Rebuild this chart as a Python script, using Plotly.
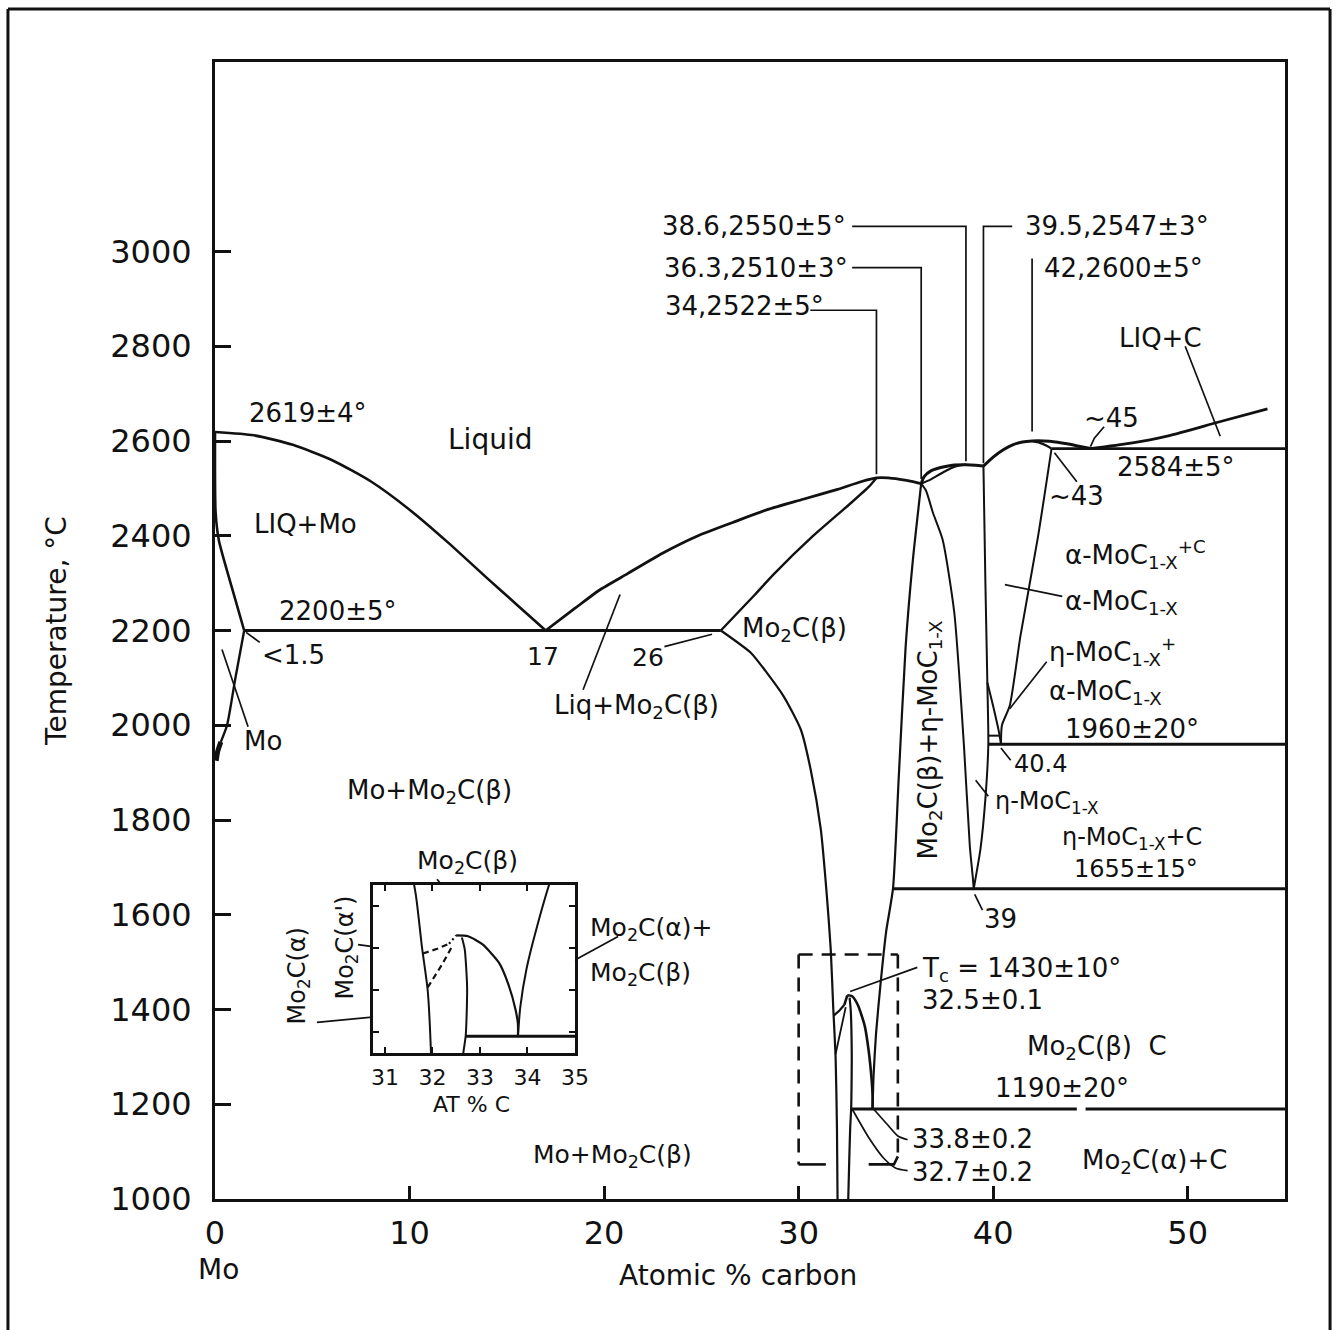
import plotly.graph_objects as go

# Mo-C phase diagram: composition in atomic % carbon, temperature in deg C

# ---------------- Mo-rich side ----------------
mo_liquidus_x = [0, 2, 4, 6, 8, 10, 12, 14, 15.5, 17]
mo_liquidus_t = [2619, 2612, 2592, 2560, 2515, 2455, 2385, 2310, 2255, 2200]
mo_solidus_x = [0, 0.03, 0.2, 0.85, 1.5]
mo_solidus_t = [2619, 2450, 2390, 2293, 2200]
mo_solvus_x = [1.5, 1.05, 0.62, 0.3]
mo_solvus_t = [2200, 2100, 2000, 1965]
mo_solvus_edge_x = [0.3, 0.14, 0.06]
mo_solvus_edge_t = [1965, 1945, 1925]

# ---------------- Mo2C ----------------
mo2c_liquidus_x = [17, 18.51, 19.75, 21.21, 23.0, 24.83, 26.61, 28.39, 30.23, 32.0, 33.2, 34,
                   34.6, 35.2, 35.8, 36.3]
mo2c_liquidus_t = [2200, 2247, 2285, 2320, 2363, 2400, 2428, 2455, 2477, 2498, 2514, 2522,
                   2522, 2519, 2515, 2510]
mo2c_solidus_x = [26, 27.76, 28.7, 30.7, 32.63, 33.6, 34]
mo2c_solidus_t = [2200, 2276, 2318, 2398, 2467, 2503, 2522]
mo2c_left_x = [26, 27.54, 28.36, 29.23, 30.11, 30.62, 31.14, 31.45, 31.65, 31.78, 31.9, 31.97, 32.0]
mo2c_left_t = [2200, 2153, 2111, 2061, 1991, 1906, 1780, 1640, 1527, 1402, 1300, 1150, 1000]
mo2c_right_x = [36.3, 35.86, 35.5, 35.14, 34.85, 34.5, 34.2, 33.98, 33.85, 33.8]
mo2c_right_t = [2510, 2344, 2166, 1885, 1655, 1565, 1450, 1350, 1260, 1190]

# ordering of Mo2C (beta -> alpha), critical point Tc
tc_dome_x = [32.5, 32.75, 33.05, 33.4, 33.6, 33.75, 33.8, 33.8]
tc_dome_t = [1430, 1428, 1409, 1365, 1313, 1253, 1219, 1190]
alpha_prime_upper_x = [31.8, 32.1, 32.35]
alpha_prime_upper_t = [1387, 1398, 1410]
alpha_prime_top_x = [32.35, 32.5]
alpha_prime_top_t = [1410, 1430]
alpha_prime_lower_x = [31.9, 32.2, 32.42]
alpha_prime_lower_t = [1306, 1360, 1405]
mo2c_alpha_right_x = [32.62, 32.68, 32.73, 32.72, 32.7, 32.65, 32.6, 32.55]
mo2c_alpha_right_t = [1425, 1397, 1308, 1240, 1190, 1150, 1080, 1000]

# ---------------- eta-MoC(1-x) ----------------
eta_liquidus_x = [36.3, 36.45, 36.8, 37.3, 37.9, 38.6, 39.1, 39.5]
eta_liquidus_t = [2510, 2525, 2537, 2544, 2549, 2550, 2549, 2547]
eta_solidus_x = [36.3, 36.8, 37.3, 37.8, 38.2, 38.6]
eta_solidus_t = [2510, 2519, 2531, 2542, 2548, 2550]
eta_left_x = [36.3, 36.55, 36.9, 37.4, 38.0, 38.5, 38.8, 38.95, 39.0]
eta_left_t = [2510, 2495, 2449, 2392, 2238, 1955, 1744, 1680, 1655]
eta_right_x = [39.5, 39.6, 39.7, 39.75, 39.6, 39.35, 39.0]
eta_right_t = [2547, 2300, 2090, 1960, 1845, 1740, 1655]

# ---------------- alpha-MoC(1-x) ----------------
alpha_liquidus_x = [39.5, 40.0, 40.5, 41.0, 41.5, 42, 42.6, 43.2, 43.8, 44.4, 45]
alpha_liquidus_t = [2547, 2566, 2581, 2592, 2598, 2600, 2600, 2598, 2594, 2589, 2584]
alpha_solidus_x = [42, 42.4, 42.75, 43]
alpha_solidus_t = [2600, 2596, 2590, 2584]
alpha_left_x = [39.7, 40.0, 40.3, 40.4]
alpha_left_t = [2090, 2040, 1985, 1960]
alpha_right_x = [43, 42.3, 41.4, 40.85, 40.45, 40.4]
alpha_right_t = [2584, 2397, 2188, 2041, 2000, 1960]
eta_alpha_floor_x = [39.75, 40.3]
eta_alpha_floor_t = [1978, 1978]

# ---------------- carbon side ----------------
c_liquidus_x = [45, 47, 49, 51.5, 54.1]
c_liquidus_t = [2584, 2595, 2611, 2639, 2668]

# ---------------- invariant temperatures ----------------
iso_2200_x, iso_2200_t = [1.5, 26], [2200, 2200]
iso_2584_x, iso_2584_t = [43, 55], [2584, 2584]
iso_1960_x, iso_1960_t = [39.75, 55], [1960, 1960]
iso_1655_x, iso_1655_t = [34.85, 55], [1655, 1655]
iso_1190a_x, iso_1190a_t = [32.7, 44.3], [1190, 1190]
iso_1190b_x, iso_1190b_t = [44.75, 55], [1190, 1190]

# frame marking the enlarged region
zoom_box_top_x, zoom_box_top_t = [30.0, 35.1], [1516, 1516]
zoom_box_left_x, zoom_box_left_t = [30.0, 30.0], [1516, 1073]
zoom_box_right_x, zoom_box_right_t = [35.1, 35.1], [1516, 1090]
zoom_box_foot_l_x, zoom_box_foot_l_t = [30.0, 31.4], [1073, 1073]
zoom_box_foot_r_x, zoom_box_foot_r_t = [33.6, 34.9, 35.1], [1073, 1073, 1090]

# leader lines from labels to points
leaders = {
    "mo": ([0.36, 1.7], [2160, 1997]),
    "lt15": ([1.6, 2.3], [2196, 2175]),
    "c26": ([23.1, 25.55], [2166, 2192]),
    "liq_mo2c": ([18.92, 20.82], [2075, 2276]),
    "p34": ([30.6, 34, 34], [2876, 2876, 2530]),
    "p363": ([32.75, 36.3, 36.3], [2966, 2966, 2520]),
    "p386": ([32.75, 38.6, 38.6], [3053, 3053, 2557]),
    "p395": ([40.98, 39.5, 39.5], [3053, 3053, 2553]),
    "p42": ([42, 42], [2985, 2620]),
    "liqc": ([49.87, 51.67], [2800, 2610]),
    "p45": ([45.7, 45.2, 45.0], [2630, 2606, 2588]),
    "p43": ([44.3, 43.15], [2514, 2575]),
    "alpha1": ([40.6, 43.55], [2297, 2272]),
    "eta_alpha": ([42.75, 40.85], [2134, 2035]),
    "p404": ([40.4, 40.9], [1952, 1926]),
    "eta": ([39.1, 39.75], [1884, 1850]),
    "p39": ([39.05, 39.45], [1643, 1610]),
    "tc": ([36.1, 32.65], [1489, 1438]),
    "p338": ([33.85, 34.5, 35.1, 35.6], [1190, 1160, 1133, 1125]),
    "p327": ([32.75, 33.6, 34.4, 35.0, 35.6], [1190, 1130, 1085, 1065, 1060]),
    "inset_beta": ([11.41, 12.85], [1675, 1605]),
    "alpha_prime": ([7.35, 11.21], [1537, 1516]),
    "alpha_inset": ([5.24, 12.24], [1373, 1400]),
    "ab": ([20.72, 14.5], [1554, 1415]),
}

BLACK = "#111111"
FONT = "DejaVu Sans"

fig = go.Figure()


def curve(x, t, width=2.6, dash="solid", smooth=True, xa="x", ya="y"):
    fig.add_trace(go.Scatter(
        x=x, y=t, mode="lines", xaxis=xa, yaxis=ya,
        line=dict(color=BLACK, width=width, dash=dash,
                  shape="spline" if smooth else "linear", smoothing=0.6),
        hoverinfo="skip", showlegend=False))


# main diagram boundaries
main_curves = [
    (mo_liquidus_x, mo_liquidus_t, 2.6, "solid", True),
    (mo_solidus_x, mo_solidus_t, 2.6, "solid", True),
    (mo_solvus_x, mo_solvus_t, 2.4, "solid", True),
    (mo_solvus_edge_x, mo_solvus_edge_t, 5, "solid", True),
    (mo2c_liquidus_x, mo2c_liquidus_t, 2.8, "solid", True),
    (mo2c_solidus_x, mo2c_solidus_t, 2.4, "solid", True),
    (mo2c_left_x, mo2c_left_t, 2.2, "solid", True),
    (mo2c_right_x, mo2c_right_t, 2.2, "solid", True),
    (tc_dome_x, tc_dome_t, 2.6, "solid", True),
    (alpha_prime_upper_x, alpha_prime_upper_t, 2.2, "solid", False),
    (alpha_prime_top_x, alpha_prime_top_t, 2.6, "solid", False),
    (alpha_prime_lower_x, alpha_prime_lower_t, 1.8, "solid", False),
    (mo2c_alpha_right_x, mo2c_alpha_right_t, 2.2, "solid", True),
    (eta_liquidus_x, eta_liquidus_t, 3.0, "solid", True),
    (eta_solidus_x, eta_solidus_t, 2.2, "solid", True),
    (eta_left_x, eta_left_t, 2.0, "solid", True),
    (eta_right_x, eta_right_t, 2.0, "solid", True),
    (alpha_liquidus_x, alpha_liquidus_t, 3.0, "solid", True),
    (alpha_solidus_x, alpha_solidus_t, 2.2, "solid", True),
    (alpha_left_x, alpha_left_t, 2.0, "solid", True),
    (alpha_right_x, alpha_right_t, 2.0, "solid", True),
    (eta_alpha_floor_x, eta_alpha_floor_t, 2.0, "solid", False),
    (c_liquidus_x, c_liquidus_t, 2.8, "solid", True),
    (iso_2200_x, iso_2200_t, 3.0, "solid", False),
    (iso_2584_x, iso_2584_t, 2.6, "solid", False),
    (iso_1960_x, iso_1960_t, 3.0, "solid", False),
    (iso_1655_x, iso_1655_t, 3.0, "solid", False),
    (iso_1190a_x, iso_1190a_t, 3.0, "solid", False),
    (iso_1190b_x, iso_1190b_t, 3.0, "solid", False),
    (zoom_box_top_x, zoom_box_top_t, 2.6, "14px,9px", False),
    (zoom_box_left_x, zoom_box_left_t, 2.6, "14px,9px", False),
    (zoom_box_right_x, zoom_box_right_t, 2.6, "14px,9px", False),
    (zoom_box_foot_l_x, zoom_box_foot_l_t, 2.6, "solid", False),
    (zoom_box_foot_r_x, zoom_box_foot_r_t, 2.6, "solid", False),
]
for x, t, w, d, s in main_curves:
    curve(x, t, w, d, s)

# enlarged view of the Mo2C ordering region
inset_curves = [
    (mo2c_left_x, mo2c_left_t, 2.0, "solid", True),
    (mo2c_right_x, mo2c_right_t, 2.0, "solid", True),
    (tc_dome_x, tc_dome_t, 2.2, "solid", True),
    (mo2c_alpha_right_x, mo2c_alpha_right_t, 2.0, "solid", True),
    (alpha_prime_upper_x, alpha_prime_upper_t, 2.2, "6px,4px", False),
    (alpha_prime_top_x, alpha_prime_top_t, 2.2, "2px,3px", False),
    (alpha_prime_lower_x, alpha_prime_lower_t, 2.2, "6px,4px", False),
    (iso_1190a_x, iso_1190a_t, 3.0, "solid", False),
]
for x, t, w, d, s in inset_curves:
    curve(x, t, w, d, s, xa="x2", ya="y2")

for lx, lt in leaders.values():
    curve(lx, lt, 1.7, "solid", len(lx) > 3)

annotations = []


def label(text, x, t, size=26, xanchor="center", angle=0, xref="x", yref="y"):
    annotations.append(dict(
        text=text, x=x, y=t, xref=xref, yref=yref, showarrow=False,
        xanchor=xanchor, yanchor="middle", textangle=angle,
        font=dict(family=FONT, size=size, color=BLACK)))


MO2C = "Mo<sub>2</sub>C"
MOC = "MoC<sub>1-X</sub>"

label("2619±4°", 4.78, 2660)
label("Liquid", 14.14, 2603, size=28)
label("LIQ+Mo", 4.63, 2424)
label("2200±5°", 6.32, 2242)
label("<1.5", 4.06, 2149)
label("Mo", 2.47, 1966)
label("17", 16.85, 2145, size=25)
label("26", 22.26, 2143, size=25)
label("Liq+" + MO2C + "(β)", 21.65, 2040)
label(MO2C + "(β)", 29.8, 2202)
label("Mo+" + MO2C + "(β)", 11.05, 1860)
label("Mo+" + MO2C + "(β)", 20.41, 1090, size=25)
label(MO2C + "(β)", 12.96, 1712, size=25)
label(MO2C + "(α)+", 19.18, 1569, size=25, xanchor="left")
label(MO2C + "(β)", 19.18, 1476, size=25, xanchor="left")
label(MO2C + "(α')", 6.74, 1531, size=24, angle=-90)
label(MO2C + "(α)", 4.27, 1470, size=24, angle=-90)
label("AT % C", 13.21, 1200, size=22)

label("38.6,2550±5°", 22.88, 3053, xanchor="left")
label("36.3,2510±3°", 22.98, 2966, xanchor="left")
label("34,2522±5°", 23.03, 2884, xanchor="left")
label("39.5,2547±3°", 41.54, 3053, xanchor="left")
label("42,2600±5°", 42.52, 2966, xanchor="left")
label("LIQ+C", 46.38, 2818, xanchor="left")
label("~45", 44.58, 2649, xanchor="left")
label("2584±5°", 46.27, 2546, xanchor="left")
label("~43", 42.78, 2483, xanchor="left")
label("α-" + MOC + "<sup>+C</sup>", 43.6, 2360, xanchor="left")
label("α-" + MOC, 43.6, 2259, xanchor="left")
label("η-" + MOC + "<sup>+</sup>", 42.78, 2155, xanchor="left")
label("α-" + MOC, 42.78, 2069, xanchor="left")
label("1960±20°", 43.6, 1993, xanchor="left")
label("40.4", 40.95, 1919, size=24, xanchor="left")
label("η-" + MOC, 40.0, 1838, size=24, xanchor="left")
label("η-" + MOC + "+C", 43.44, 1762, size=24, xanchor="left")
label("1655±15°", 44.06, 1697, size=24, xanchor="left")
label("39", 39.43, 1592, xanchor="left")
label(MO2C + "(β)+η-" + MOC, 36.7, 1970, angle=-90)
label("T<sub>c</sub> = 1430±10°", 36.25, 1485, xanchor="left")
label("32.5±0.1", 36.25, 1421, xanchor="left")
label(MO2C + "(β)\u00a0\u00a0C", 41.65, 1320, xanchor="left")
label("1190±20°", 43.55, 1234)
label("33.8±0.2", 35.73, 1126, xanchor="left")
label("32.7±0.2", 35.73, 1058, xanchor="left")
label(MO2C + "(α)+C", 44.47, 1079, xanchor="left")

# axis titles
label("Temperature, °C", -0.1477, 0.4996, size=28, angle=-90, xref="paper", yref="paper")
label("Atomic % carbon", 0.4888, -0.0677, size=28, xref="paper", yref="paper")
label("Mo", 0.003, -0.0624, size=28, xref="paper", yref="paper")

# outer border of the figure
border = [
    (-0.1935, -0.124, -0.1935, 1.0466),
    (-0.1935, 1.0466, 1.0421, 1.0466),
    (1.0421, 1.0466, 1.0421, -0.124),
]
shapes = [dict(type="line", xref="paper", yref="paper", x0=a, y0=b, x1=c, y1=d,
               line=dict(color=BLACK, width=3)) for a, b, c, d in border]

axis_common = dict(showgrid=False, zeroline=False, showline=True, linecolor=BLACK,
                   tickcolor=BLACK, ticks="inside")

fig.update_layout(
    width=1339, height=1330,
    margin=dict(l=215, r=54, t=62, b=131),
    paper_bgcolor="white", plot_bgcolor="white",
    showlegend=False,
    font=dict(family=FONT, color=BLACK),
    annotations=annotations,
    shapes=shapes,
    xaxis=dict(axis_common, range=[0, 55], tickvals=[0, 10, 20, 30, 40, 50],
               ticklen=13, tickwidth=2.5, linewidth=3, mirror=True,
               tickfont=dict(family=FONT, size=32, color=BLACK), ticklabelstandoff=4),
    yaxis=dict(axis_common, range=[1000, 3400], tickvals=list(range(1000, 3001, 200)),
               ticklen=16, tickwidth=2.5, linewidth=3, mirror=True,
               tickfont=dict(family=FONT, size=32, color=BLACK), ticklabelstandoff=14),
    xaxis2=dict(axis_common, domain=[0.1477, 0.3364], anchor="y2", range=[30.75, 35.0],
                tickvals=[31, 32, 33, 34, 35], ticklen=6, tickwidth=2, linewidth=2.5,
                mirror="allticks", tickfont=dict(family=FONT, size=22, color=BLACK),
                ticklabelstandoff=3),
    yaxis2=dict(axis_common, domain=[0.1284, 0.2762], anchor="x2", range=[1150, 1550],
                tickvals=[1200, 1300, 1400, 1500], showticklabels=False, ticklen=6,
                tickwidth=2, linewidth=2.5, mirror="allticks"),
)

fig.write_html("out.html")
